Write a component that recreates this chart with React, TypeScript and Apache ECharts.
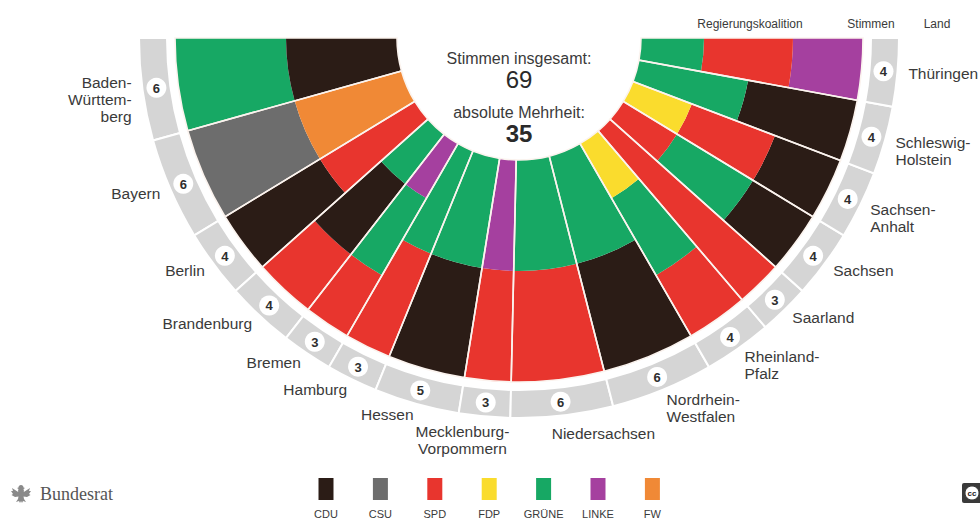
import { useEffect, useRef } from "react";
import * as echarts from "echarts";

// ---------- data ----------
const STATE_NAMES = [
  "Baden-Württemberg", "Bayern", "Berlin", "Brandenburg", "Bremen", "Hamburg", "Hessen",
  "Mecklenburg-Vorpommern", "Niedersachsen", "Nordrhein-Westfalen", "Rheinland-Pfalz",
  "Saarland", "Sachsen", "Sachsen-Anhalt", "Schleswig-Holstein", "Thüringen",
];
const STATE_LABELS = [
  "Baden-\nWürttem-\nberg", "Bayern", "Berlin", "Brandenburg", "Bremen", "Hamburg", "Hessen",
  "Mecklenburg-\nVorpommern", "Niedersachsen", "Nordrhein-\nWestfalen", "Rheinland-\nPfalz",
  "Saarland", "Sachsen", "Sachsen-\nAnhalt", "Schleswig-\nHolstein", "Thüringen",
];
const STATE_VOTES = [6, 6, 4, 4, 3, 3, 5, 3, 6, 6, 4, 3, 4, 4, 4, 4];
// governing coalition per state, listed from the outer ring to the inner ring
const COALITIONS = [
  ["GRÜNE", "CDU"],
  ["CSU", "FW"],
  ["CDU", "SPD"],
  ["SPD", "CDU", "GRÜNE"],
  ["SPD", "GRÜNE", "LINKE"],
  ["SPD", "GRÜNE"],
  ["CDU", "GRÜNE"],
  ["SPD", "LINKE"],
  ["SPD", "GRÜNE"],
  ["CDU", "GRÜNE"],
  ["SPD", "GRÜNE", "FDP"],
  ["SPD"],
  ["CDU", "GRÜNE", "SPD"],
  ["CDU", "SPD", "FDP"],
  ["CDU", "GRÜNE"],
  ["LINKE", "SPD", "GRÜNE"],
];
const PARTIES = ["CDU", "CSU", "SPD", "FDP", "GRÜNE", "LINKE", "FW"];
const PARTY_COLORS = ["#2b1c16", "#6d6d6d", "#e8352e", "#fadc2d", "#17a864", "#a5409f", "#f08936"];
const HEADERS = ["Regierungskoalition", "Stimmen", "Land"];
const CENTER_LABELS = ["Stimmen insgesamt:", "absolute Mehrheit:"];

// ---------- layout / style ----------
const CENTER: [number, number] = [519, 38];
const R_IN = 122;
const R_OUT = 344;
const RING_IN = 352;
const RING_OUT = 380;
const BADGE_R = 366;
const LABEL_R = 391;
const LAYER_EDGES: Record<number, number[]> = {
  1: [344, 122],
  2: [344, 233, 122],
  3: [344, 274, 185, 122],
};
const LABEL_NUDGE: Record<string, [number, number]> = {
  "Mecklenburg-Vorpommern": [-21, 13],
  "Niedersachsen": [40, 7],
};
const FONT = "'Liberation Sans', Arial, Helvetica, sans-serif";
const TEXT = "#3a3a3a";
const RING_GRAY = "#d5d5d5";

const EAGLE =
  "M10 1 C11.5 1 12.5 2 12.5 3.5 L14 4 L12.5 5 C13 6 13 7 12.8 8 L19 4 L18 7 L20 7 L18 10 L19.5 11 L16 13 L12.5 12.5 L13 15 L15 18 L12 17 L11 19 L10 17 L9 19 L8 17 L5 18 L7 15 L7.5 12.5 L4 13 L0.5 11 L2 10 L0 7 L2 7 L1 4 L7.2 8 C7 7 7 6 7.5 5 L6 4 L7.5 3.5 C7.5 2 8.5 1 10 1 Z";

let eagleRegistered = false;

export default function App() {
  const ref = useRef<HTMLDivElement>(null);

  useEffect(() => {
    if (!eagleRegistered) {
      echarts.graphic.registerShape("eagle", echarts.graphic.extendPath(EAGLE, {}) as any);
      eagleRegistered = true;
    }
    const chart = echarts.init(ref.current!, null, { renderer: "svg" });

    const total = STATE_VOTES.reduce((a, b) => a + b, 0);
    const majority = Math.floor(total / 2) + 1;
    const starts: number[] = [];
    let acc = 0;
    STATE_VOTES.forEach((v) => {
      starts.push(acc);
      acc += v;
    });

    const layerData: number[][] = [];
    COALITIONS.forEach((co, i) => {
      const edges = LAYER_EDGES[co.length];
      co.forEach((p, j) => {
        layerData.push([edges[j], starts[i], edges[j + 1], starts[i] + STATE_VOTES[i], PARTIES.indexOf(p)]);
      });
    });
    const stateData = STATE_VOTES.map((v, i) => [RING_OUT, starts[i], starts[i] + v, i]);

    const angleOf = (p: number[], cx: number, cy: number) => {
      let a = Math.atan2(p[1] - cy, p[0] - cx);
      if (a < -Math.PI / 2) a += Math.PI * 2;
      return a;
    };

    const layerSeries = {
      type: "custom",
      coordinateSystem: "polar",
      silent: true,
      clip: false,
      z: 2,
      data: layerData,
      renderItem: (params: any, api: any) => {
        const cs = params.coordSys;
        const cx = cs.cx, cy = cs.cy;
        const pS = api.coord([api.value(0), api.value(1)]);
        const pE = api.coord([api.value(0), api.value(3)]);
        const pIn = api.coord([api.value(2), api.value(1)]);
        const r = Math.hypot(pS[0] - cx, pS[1] - cy);
        const r0 = Math.hypot(pIn[0] - cx, pIn[1] - cy);
        return {
          type: "sector",
          shape: { cx, cy, r, r0, startAngle: angleOf(pE, cx, cy), endAngle: angleOf(pS, cx, cy), clockwise: true },
          style: { fill: PARTY_COLORS[api.value(4)] },
        };
      },
    };

    const stateSeries = {
      type: "custom",
      coordinateSystem: "polar",
      silent: true,
      clip: false,
      z: 3,
      data: stateData,
      renderItem: (params: any, api: any) => {
        const cs = params.coordSys;
        const cx = cs.cx, cy = cs.cy;
        const s = api.value(1), e = api.value(2), idx = api.value(3);
        const rad = (rv: number) => {
          const p = api.coord([rv, s]);
          return Math.hypot(p[0] - cx, p[1] - cy);
        };
        const a0 = angleOf(api.coord([RING_OUT, e]), cx, cy);
        const a1 = angleOf(api.coord([RING_OUT, s]), cx, cy);
        const mid = (s + e) / 2;
        const badge = api.coord([BADGE_R, mid]);
        const lab = api.coord([LABEL_R, mid]);
        const name = STATE_NAMES[idx];
        const text = STATE_LABELS[idx];
        const multi = text.indexOf("\n") >= 0;
        let align = "center";
        if (lab[0] < cx - 60) align = "right";
        else if (lab[0] > cx + 60) align = "left";
        let lx = lab[0], ly = lab[1];
        if (align !== "center" && multi) ly += 8;
        const nudge = LABEL_NUDGE[name];
        if (nudge) {
          lx += nudge[0];
          ly += nudge[1];
        }
        return {
          type: "group",
          children: [
            {
              type: "sector",
              shape: { cx, cy, r: rad(RING_OUT), r0: rad(RING_IN), startAngle: a0, endAngle: a1, clockwise: true },
              style: { fill: RING_GRAY, stroke: "#ffffff", lineWidth: 2 },
            },
            {
              type: "sector",
              shape: { cx, cy, r: rad(R_OUT), r0: rad(R_IN), startAngle: a0, endAngle: a1, clockwise: true },
              style: { fill: "none", stroke: "#fbf3ee", lineWidth: 1.6 },
            },
            {
              type: "circle",
              shape: { cx: badge[0], cy: badge[1], r: 10 },
              style: { fill: "#ffffff" },
            },
            {
              type: "text",
              x: badge[0],
              y: badge[1] + 0.5,
              style: {
                text: String(e - s),
                font: `bold 13px ${FONT}`,
                fill: "#2e2e2e",
                align: "center",
                verticalAlign: "middle",
              },
            },
            {
              type: "text",
              x: lx,
              y: ly,
              style: {
                text,
                font: `15.5px ${FONT}`,
                fill: TEXT,
                align,
                verticalAlign: "middle",
                lineHeight: 17,
              },
            },
          ],
        };
      },
    };

    const legendElems: any[] = [];
    PARTIES.forEach((p, i) => {
      const x = 326 + i * 54.4;
      legendElems.push({
        type: "rect",
        shape: { x: x - 7.5, y: 478, width: 15, height: 22 },
        style: { fill: PARTY_COLORS[i] },
      });
      legendElems.push({
        type: "text",
        x,
        y: 514,
        style: { text: p, font: `11px ${FONT}`, fill: TEXT, align: "center", verticalAlign: "middle" },
      });
    });

    const headerX = [750, 871, 937];
    const headerElems = HEADERS.map((h, i) => ({
      type: "text",
      x: headerX[i],
      y: 24,
      style: { text: h, font: `12px ${FONT}`, fill: TEXT, align: "center", verticalAlign: "middle" },
    }));

    chart.setOption({
      animation: false,
      polar: { center: CENTER, radius: RING_OUT },
      angleAxis: { type: "value", min: 0, max: total * 2, startAngle: 180, clockwise: false, show: false },
      radiusAxis: { type: "value", min: 0, max: RING_OUT, show: false },
      series: [layerSeries, stateSeries],
      graphic: {
        elements: [
          {
            type: "text",
            x: 519,
            y: 58,
            style: { text: CENTER_LABELS[0], font: `16px ${FONT}`, fill: TEXT, align: "center", verticalAlign: "middle" },
          },
          {
            type: "text",
            x: 519,
            y: 79,
            style: { text: String(total), font: `24px ${FONT}`, fill: "#2a2a2a", align: "center", verticalAlign: "middle" },
          },
          {
            type: "text",
            x: 519,
            y: 112,
            style: { text: CENTER_LABELS[1], font: `16px ${FONT}`, fill: TEXT, align: "center", verticalAlign: "middle" },
          },
          {
            type: "text",
            x: 519,
            y: 133,
            style: { text: String(majority), font: `bold 24px ${FONT}`, fill: "#2a2a2a", align: "center", verticalAlign: "middle" },
          },
          ...headerElems,
          ...legendElems,
          {
            type: "eagle",
            x: 11,
            y: 484,
            scaleX: 1,
            scaleY: 1,
            style: { fill: "#8a8a8a" },
          },
          {
            type: "text",
            x: 40,
            y: 494,
            style: {
              text: "Bundesrat",
              font: `18px 'Liberation Serif', 'DejaVu Serif', serif`,
              fill: "#555555",
              align: "left",
              verticalAlign: "middle",
            },
          },
          {
            type: "rect",
            shape: { x: 962, y: 483, width: 20, height: 20, r: 2 },
            style: { fill: "#3a3a3a" },
          },
          {
            type: "circle",
            shape: { cx: 972, cy: 493, r: 7 },
            style: { fill: "#ffffff", stroke: "#3a3a3a", lineWidth: 1 },
          },
          {
            type: "text",
            x: 972,
            y: 493.5,
            style: { text: "cc", font: `bold 8px ${FONT}`, fill: "#222", align: "center", verticalAlign: "middle" },
          },
        ],
      },
    });

    return () => chart.dispose();
  }, []);

  return (
    <div
      ref={ref}
      style={{ position: "fixed", left: 0, top: 0, width: 980, height: 521, background: "#ffffff" }}
    />
  );
}
